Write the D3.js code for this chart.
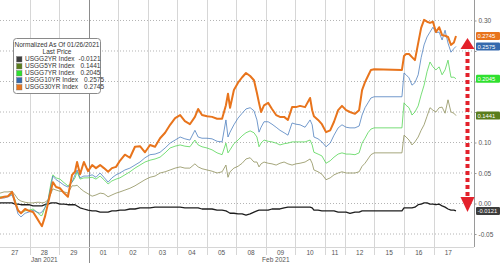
<!DOCTYPE html>
<html lang="en">
<head>
<meta charset="UTF-8" />
<script src="https://d3js.org/d3.v7.min.js"></script>
<style>
  body { margin: 0; background: #fff; }
  svg { display: block; font-family: "Liberation Sans", Arial, sans-serif; }
  .grid-y line { stroke: #b4b4b4; stroke-dasharray: 1,2; }
  .axis-r text { fill: #555; font-size: 6.5px; }
  .axis-r path, .axis-r line { stroke: #9a9a9a; }
</style>
</head>
<body>
<svg id="chart" width="500" height="263"></svg>
<script>
// time in trading days from the 27 Jan open (Feb 11 is a short session, Feb 15 a holiday)
const t = [0,0.14,0.27,0.41,0.51,0.61,0.71,0.85,0.98,1.12,
  1.25,1.35,1.42,1.52,1.63,1.73,1.79,1.90,2.03,2.17,
  2.30,2.44,2.54,2.61,2.71,2.84,2.98,3.12,3.25,3.39,
  3.52,3.66,3.79,3.93,4.06,4.23,4.40,4.57,4.74,4.91,
  5.08,5.25,5.42,5.59,5.76,5.93,6.10,6.26,6.43,6.60,
  6.71,6.84,7.01,7.18,7.35,7.52,7.65,7.72,7.79,7.92,
  8.06,8.20,8.33,8.47,8.60,8.70,8.77,8.84,8.94,9.08,
  9.21,9.35,9.48,9.62,9.75,9.89,10.02,10.16,10.33,10.50,
  10.57,10.63,10.77,10.90,11.04,11.18,11.31,11.45,11.58,11.72,
  11.85,12.02,12.16,12.26,12.36,12.46,12.56,12.67,13.61,13.68,
  13.75,13.85,13.95,14.05,14.16,14.26,14.36,14.46,14.56,14.66,
  14.76,14.87,14.97,15.07,15.17,15.27,15.37,15.44];

const usgg2 = [0.001,0.001,0.001,0.001,-0.001,-0.001,-0.002,-0.002,-0.002,-0.004,
  -0.004,-0.004,-0.004,-0.002,-0.001,0.001,0.001,0.001,-0.001,-0.001,
  -0.002,-0.002,-0.002,-0.004,-0.007,-0.009,-0.011,-0.012,-0.012,-0.014,
  -0.014,-0.014,-0.012,-0.012,-0.011,-0.011,-0.009,-0.009,-0.007,-0.007,
  -0.007,-0.006,-0.006,-0.006,-0.006,-0.006,-0.006,-0.007,-0.007,-0.007,
  -0.007,-0.009,-0.009,-0.009,-0.011,-0.011,-0.012,-0.014,-0.016,-0.016,
  -0.017,-0.017,-0.019,-0.017,-0.014,-0.012,-0.011,-0.011,-0.011,-0.011,
  -0.009,-0.009,-0.009,-0.007,-0.006,-0.006,-0.006,-0.006,-0.006,-0.006,
  -0.007,-0.011,-0.011,-0.012,-0.012,-0.012,-0.012,-0.014,-0.014,-0.014,
  -0.016,-0.014,-0.014,-0.012,-0.012,-0.012,-0.012,-0.012,-0.012,-0.007,
  -0.007,-0.007,-0.007,-0.006,-0.002,-0.001,0.001,0.001,-0.001,-0.001,
  -0.002,-0.001,-0.004,-0.006,-0.009,-0.011,-0.011,-0.0121];

const usgg5 = [0.017,0.019,0.019,0.020,0.014,0.007,0.004,0.002,0.001,0.001,
  0.002,0.002,0.001,0.002,0.006,0.017,0.024,0.022,0.020,0.019,
  0.017,0.029,0.029,0.030,0.025,0.020,0.016,0.012,0.014,0.017,
  0.016,0.011,0.014,0.017,0.019,0.022,0.025,0.029,0.034,0.039,
  0.043,0.045,0.050,0.052,0.055,0.058,0.060,0.058,0.058,0.065,
  0.060,0.057,0.055,0.053,0.050,0.052,0.063,0.043,0.052,0.058,
  0.061,0.066,0.073,0.075,0.068,0.068,0.060,0.065,0.068,0.066,
  0.065,0.063,0.066,0.068,0.065,0.063,0.065,0.066,0.068,0.073,
  0.066,0.055,0.052,0.048,0.039,0.042,0.047,0.050,0.052,0.050,
  0.050,0.050,0.052,0.061,0.066,0.073,0.080,0.083,0.083,0.112,
  0.109,0.104,0.096,0.101,0.109,0.120,0.129,0.143,0.157,0.153,
  0.150,0.157,0.158,0.148,0.170,0.150,0.148,0.1441];

const usgg7 = [0.011,0.011,0.012,0.016,0.006,-0.011,-0.016,-0.012,-0.011,-0.009,
  -0.014,-0.019,-0.020,-0.007,0.006,0.035,0.047,0.042,0.040,0.034,
  0.029,0.035,0.042,0.052,0.040,0.042,0.042,0.043,0.040,0.045,
  0.039,0.032,0.037,0.040,0.042,0.047,0.052,0.058,0.063,0.068,
  0.071,0.073,0.076,0.083,0.091,0.094,0.096,0.094,0.093,0.104,
  0.096,0.093,0.091,0.088,0.083,0.080,0.099,0.083,0.088,0.098,
  0.104,0.111,0.116,0.119,0.116,0.109,0.093,0.099,0.104,0.102,
  0.101,0.099,0.096,0.098,0.099,0.101,0.101,0.101,0.101,0.104,
  0.096,0.084,0.081,0.078,0.066,0.070,0.076,0.081,0.083,0.081,
  0.081,0.080,0.083,0.099,0.107,0.116,0.122,0.124,0.124,0.165,
  0.161,0.157,0.145,0.150,0.160,0.178,0.194,0.216,0.232,0.224,
  0.219,0.224,0.211,0.219,0.235,0.207,0.207,0.2045];

const usgg10 = [0.009,0.009,0.011,0.014,0.001,-0.017,-0.022,-0.016,-0.014,-0.011,
  -0.014,-0.016,-0.014,-0.007,0.006,0.030,0.045,0.039,0.035,0.030,
  0.027,0.035,0.047,0.055,0.042,0.045,0.045,0.047,0.043,0.050,
  0.043,0.035,0.042,0.047,0.050,0.055,0.058,0.063,0.068,0.075,
  0.080,0.081,0.084,0.091,0.099,0.104,0.109,0.106,0.104,0.120,
  0.109,0.107,0.107,0.106,0.102,0.101,0.137,0.109,0.117,0.129,
  0.140,0.148,0.155,0.157,0.152,0.137,0.117,0.125,0.134,0.134,
  0.130,0.125,0.120,0.116,0.112,0.132,0.130,0.129,0.125,0.137,
  0.129,0.109,0.106,0.101,0.093,0.099,0.112,0.124,0.129,0.125,
  0.124,0.124,0.127,0.145,0.157,0.165,0.173,0.175,0.175,0.214,
  0.211,0.206,0.194,0.198,0.211,0.239,0.260,0.273,0.281,0.289,
  0.280,0.281,0.268,0.284,0.263,0.248,0.254,0.2575];

const usgg30 = [0.009,0.011,0.012,0.019,0.002,-0.011,-0.016,-0.009,-0.012,-0.014,
  -0.024,-0.032,-0.037,-0.022,0.001,0.022,0.035,0.027,0.025,0.017,
  0.011,0.047,0.052,0.068,0.048,0.068,0.053,0.063,0.058,0.063,
  0.058,0.052,0.058,0.060,0.070,0.080,0.075,0.093,0.094,0.084,
  0.096,0.093,0.107,0.116,0.129,0.140,0.145,0.135,0.130,0.142,
  0.155,0.145,0.143,0.142,0.139,0.139,0.161,0.180,0.157,0.186,
  0.198,0.207,0.214,0.209,0.202,0.181,0.165,0.150,0.161,0.165,
  0.155,0.145,0.142,0.142,0.137,0.158,0.158,0.160,0.158,0.173,
  0.153,0.143,0.137,0.130,0.117,0.120,0.134,0.153,0.160,0.153,
  0.150,0.147,0.153,0.186,0.199,0.209,0.219,0.220,0.219,0.242,
  0.245,0.245,0.240,0.235,0.263,0.288,0.301,0.298,0.296,0.298,
  0.281,0.289,0.276,0.275,0.273,0.260,0.264,0.2745];

const names = ["USGG2YR Index", "USGG5YR Index", "USGG7YR Index", "USGG10YR Index", "USGG30YR Index"];
const lastPrice = [-0.0121, 0.1441, 0.2045, 0.2575, 0.2745];
const days = ["27","28","29","01","02","03","04","05","08","09","10","11","12","15","16","17"];
const dayLength = [1,1,1,1,1,1,1,1,1,1,1,0.68,1,1,1,1];
const dayMonth = ["Jan 2021","Jan 2021","Jan 2021","Feb 2021","Feb 2021","Feb 2021","Feb 2021","Feb 2021",
  "Feb 2021","Feb 2021","Feb 2021","Feb 2021","Feb 2021","Feb 2021","Feb 2021","Feb 2021"];
const yTicks = [-0.05, 0, 0.05, 0.10, 0.15, 0.20, 0.25, 0.30];

const allValues = [usgg2, usgg5, usgg7, usgg10, usgg30];
const lineColors = ["#1e1e1e", "#8e8f5a", "#55d655", "#4f80bf", "#e8741c"];
const boxColors = ["#3d3d3d", "#5a7d1c", "#2fe02f", "#3569ad", "#e8741c"];
const lineWidths = [1.3, 0.8, 0.8, 0.8, 2];

const svg = d3.select("#chart");
const W = 500, H = 263;
const plot = { left: 0, right: 474, top: 0, bottom: 247 };

// day starts in trading-day units
const dayStart = [];
dayLength.reduce((acc, len, i) => { dayStart[i] = acc; return acc + len; }, 0);
const lastDayEnd = dayStart[dayStart.length - 1] + dayLength[dayLength.length - 1];

const x = d3.scaleLinear().domain([0, lastDayEnd + 0.37]).range([plot.left, plot.right]);
const y = d3.scaleLinear().domain([-0.0713, 0.3336]).range([plot.bottom, plot.top]);

// horizontal dotted grid
svg.append("g").attr("class", "grid-y")
  .selectAll("line").data(yTicks).join("line")
  .attr("x1", plot.left).attr("x2", plot.right)
  .attr("y1", d => y(d)).attr("y2", d => y(d));

// vertical day separators
svg.append("g").selectAll("line")
  .data(dayStart.slice(1).map((s, i) => ({ s, monthStart: dayMonth[i + 1] !== dayMonth[i] })))
  .join("line")
  .attr("x1", d => Math.round(x(d.s)) + 0.5).attr("x2", d => Math.round(x(d.s)) + 0.5)
  .attr("y1", plot.top)
  .attr("y2", d => d.monthStart ? H : plot.bottom + 8)
  .attr("stroke", d => d.monthStart ? "#8c8c8c" : "#d6d6d6")
  .attr("stroke-width", 1);

// bottom border
svg.append("line")
  .attr("x1", plot.left).attr("x2", plot.right)
  .attr("y1", plot.bottom + 0.5).attr("y2", plot.bottom + 0.5)
  .attr("stroke", "#d6d6d6");

// right axis; labels that sit under a last-price tag are hidden by it, so leave them out
const axis = svg.append("g").attr("class", "axis-r")
  .attr("transform", `translate(${plot.right + 0.5},0)`)
  .call(d3.axisRight(y).tickValues(yTicks).tickSize(2).tickPadding(2)
    .tickFormat(d => d.toFixed(2)));
axis.select(".domain").attr("d", `M0,${plot.top}V${plot.bottom}`);
axis.selectAll(".tick text")
  .filter(d => lastPrice.some(p => Math.abs(y(p) - y(d)) < 6.5))
  .remove();

// x labels
svg.append("g").selectAll("text").data(days).join("text")
  .attr("x", (d, i) => x(dayStart[i] + dayLength[i] / 2))
  .attr("y", 254.5)
  .attr("text-anchor", "middle")
  .attr("font-size", 6.5)
  .attr("fill", "#555")
  .text(d => d);

const months = d3.groups(days.map((d, i) => i), i => dayMonth[i]);
svg.append("g").selectAll("text").data(months).join("text")
  .attr("x", ([, idx]) => x((dayStart[idx[0]] + dayStart[idx[idx.length - 1]] + dayLength[idx[idx.length - 1]]) / 2))
  .attr("y", 261.5)
  .attr("text-anchor", "middle")
  .attr("font-size", 6.5)
  .attr("fill", "#555")
  .text(([m]) => m);

// lines
svg.append("clipPath").attr("id", "clip")
  .append("rect").attr("x", plot.left).attr("y", plot.top)
  .attr("width", plot.right - plot.left).attr("height", plot.bottom - plot.top);

const line = d3.line().x(d => x(d[0])).y(d => y(d[1]));
svg.append("g").attr("clip-path", "url(#clip)")
  .selectAll("path").data(allValues).join("path")
  .attr("d", vals => line(vals.map((v, i) => [t[i], v])))
  .attr("fill", "none")
  .attr("stroke", (d, i) => lineColors[i])
  .attr("stroke-width", (d, i) => lineWidths[i])
  .attr("stroke-linejoin", "round");

// last price tags on the axis
const tags = svg.append("g").selectAll("g").data(lastPrice).join("g")
  .attr("transform", d => `translate(${plot.right + 2},${y(d)})`);
tags.append("rect")
  .attr("x", 0).attr("y", -4).attr("width", W - plot.right - 2).attr("height", 8)
  .attr("rx", 1.2)
  .attr("fill", (d, i) => boxColors[i]);
tags.append("text")
  .attr("x", 1.5).attr("y", 2.2)
  .attr("font-size", 5.8)
  .attr("fill", "#fff")
  .text(d => d.toFixed(4));

// red double arrow spanning 2Y to 30Y
const ax = plot.right - 6.5;
const yTop = y(lastPrice[4]) + 2, yBot = y(lastPrice[0]) + 1;
const red = "#e3212b";
svg.append("path")
  .attr("d", `M${ax},${yTop}L${ax - 7},${yTop + 11}L${ax + 7},${yTop + 11}Z`)
  .attr("fill", red);
svg.append("path")
  .attr("d", `M${ax},${yBot}L${ax - 7},${yBot - 15}L${ax + 7},${yBot - 15}Z`)
  .attr("fill", red);
svg.append("line")
  .attr("x1", ax).attr("x2", ax)
  .attr("y1", yTop + 14).attr("y2", yBot - 15)
  .attr("stroke", red).attr("stroke-width", 4)
  .attr("stroke-dasharray", "4,3");

// legend
const lg = svg.append("g").attr("transform", "translate(13,38)");
lg.append("rect")
  .attr("x", 0.5).attr("y", 0.5).attr("width", 87).attr("height", 55)
  .attr("rx", 3).attr("fill", "#fff").attr("stroke", "#8a8a8a");
lg.append("text").attr("x", 44).attr("y", 8.5).attr("text-anchor", "middle")
  .attr("font-size", 6.5).attr("fill", "#333").text("Normalized As Of 01/26/2021");
lg.append("text").attr("x", 44).attr("y", 15.5).attr("text-anchor", "middle")
  .attr("font-size", 6.5).attr("fill", "#333").text("Last Price");
const rows = lg.selectAll("g.row").data(names).join("g")
  .attr("class", "row")
  .attr("transform", (d, i) => `translate(0,${21 + i * 7})`);
rows.append("rect")
  .attr("x", 3.5).attr("y", -2.5).attr("width", 5.5).attr("height", 5.5)
  .attr("fill", (d, i) => boxColors[i])
  .attr("stroke", "#777").attr("stroke-width", 0.4);
rows.append("text")
  .attr("class", "nm")
  .attr("x", 12).attr("y", 2.4)
  .attr("font-size", 6.5).attr("fill", "#333")
  .text(d => d);
rows.each(function (d, i) {
  const g = d3.select(this);
  const w = g.select("text.nm").node().getComputedTextLength();
  g.append("text")
    .attr("x", 12 + w + (lastPrice[i] < 0 ? 4 : 6))
    .attr("y", 2.4)
    .attr("font-size", 6.5).attr("fill", "#333")
    .text(lastPrice[i].toFixed(4));
});
</script>
</body>
</html>
